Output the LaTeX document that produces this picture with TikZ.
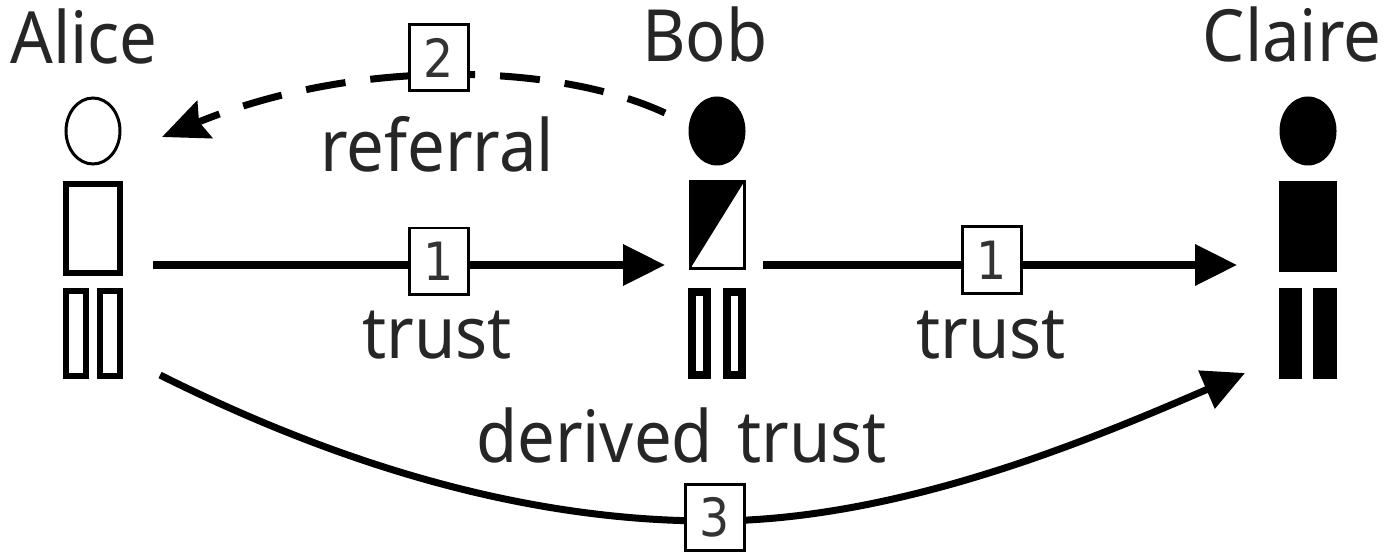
\documentclass[tikz,border=0pt]{standalone}
\usepackage{fontspec}
\setmainfont[FakeStretch=0.93]{Noto Sans}
\newfontfamily\digitfont[FakeStretch=0.9]{DejaVu Sans}
\usetikzlibrary{arrows.meta}
\tikzset{
    namelabel/.style={anchor=base, inner sep=0pt, text=black!85, font=\fontsize{20.5pt}{24pt}\selectfont},
    stepbox/.style={draw, fill=white, line width=0.03cm, minimum width=0.59cm, minimum height=0.66cm, inner sep=0pt, text=black!80, font=\digitfont\fontsize{15pt}{18pt}\selectfont},
    thinpart/.style={line width=0.03cm},
    thickpart/.style={line width=0.065cm},
    trustline/.style={line width=0.07cm, -{Triangle[length=0.42cm, width=0.4cm]}},
    referralline/.style={line width=0.07cm, dash pattern=on 0.40cm off 0.25cm, -{Stealth[length=0.46cm, width=0.40cm, inset=0.06cm]}}
}
\begin{document}
\begin{tikzpicture}[line cap=butt, line join=miter, x=1cm, y=1cm]
    \useasboundingbox (0, 0) rectangle (13.86, 5.54);

    \node[namelabel] (alicename) at (0.84, 4.90) {Alice};
    \node[namelabel] (bobname) at (7.05, 4.92) {Bob};
    \node[namelabel] (clairename) at (12.92, 4.92) {Claire};

    % Alice
    \draw[thinpart] (0.93, 4.23) ellipse (0.27 and 0.33);
    \draw[thickpart] (0.66, 3.70) rectangle (1.20, 2.81);
    \draw[thickpart] (0.66, 2.63) rectangle (0.86, 1.78);
    \draw[thickpart] (1.00, 2.63) rectangle (1.20, 1.78);

    % Bob
    \fill (7.17, 4.23) ellipse (0.285 and 0.345);
    \fill (6.90, 3.72) -- (7.44, 3.72) -- (6.90, 2.85) -- cycle;
    \draw[thinpart] (6.90, 3.72) rectangle (7.44, 2.85);
    \draw[line width=0.08cm] (6.92, 2.62) rectangle (7.07, 1.79);
    \draw[line width=0.08cm] (7.27, 2.62) rectangle (7.42, 1.79);

    % Claire
    \fill (13.08, 4.23) ellipse (0.285 and 0.345);
    \fill (12.79, 3.73) rectangle (13.37, 2.82);
    \fill (12.79, 2.66) rectangle (13.02, 1.75);
    \fill (13.13, 2.66) rectangle (13.37, 1.75);

    \coordinate (alicetrust) at (1.53, 2.89);
    \coordinate (bobin) at (6.65, 2.89);
    \coordinate (bobtrust) at (7.63, 2.89);
    \coordinate (clairein) at (12.37, 2.89);
    \coordinate (bobrefer) at (6.65, 4.41);
    \coordinate (alicein) at (1.62, 4.17);
    \coordinate (alicederived) at (1.60, 1.79);
    \coordinate (clairederived) at (12.45, 1.81);
    \coordinate (derivedlow) at (7.15, 0.33);

    \draw[trustline] (alicetrust) -- (bobin);
    \draw[trustline] (bobtrust) -- (clairein);
    \draw[referralline] (bobrefer) .. controls (5.6, 4.90) and (3.6, 4.98) .. (alicein);
    \draw[line width=0.07cm] (alicederived) .. controls (3.3, 0.94) and (5.2, 0.32) .. (derivedlow);
    \draw[trustline] (derivedlow) .. controls (9.0, 0.34) and (10.9, 1.14) .. (clairederived);

    \node[stepbox] (stepa) at (4.385, 2.93) {1};
    \node[stepbox] (stepb) at (9.915, 2.94) {1};
    \node[stepbox] (stepc) at (4.385, 4.96) {2};
    \node[stepbox] (stepd) at (7.15, 0.37) {3};

    \node[namelabel] (referral) at (4.37, 3.82) {referral};
    \node[namelabel] (trusta) at (4.37, 1.96) {trust};
    \node[namelabel] (trustb) at (9.91, 1.96) {trust};
    \node[namelabel] (derived) at (6.815, 0.92) {derived\hspace{2pt} trust};
\end{tikzpicture}
\end{document}
